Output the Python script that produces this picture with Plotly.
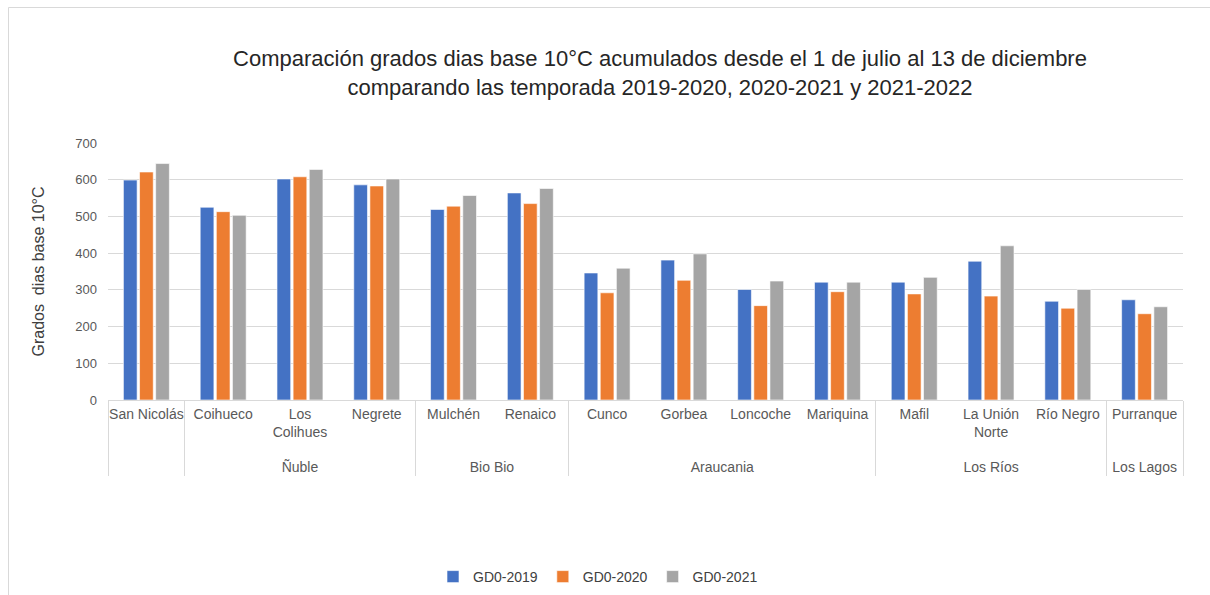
import plotly.graph_objects as go

regions = [" ", "Ñuble", "Ñuble", "Ñuble", "Bio Bio", "Bio Bio",
           "Araucania", "Araucania", "Araucania", "Araucania",
           "Los Ríos", "Los Ríos", "Los Ríos", "Los Lagos"]
localities = ["San Nicolás", "Coihueco", "Los<br>Colihues", "Negrete", "Mulchén", "Renaico",
              "Cunco", "Gorbea", "Loncoche", "Mariquina",
              "Mafil", "La Unión<br>Norte", "Río Negro", "Purranque"]
gd0_2019 = [599, 525, 602, 586, 519, 564, 346, 381, 301, 321, 321, 378, 269, 273]
gd0_2020 = [621, 513, 608, 583, 528, 535, 292, 326, 257, 295, 289, 283, 250, 235]
gd0_2021 = [644, 503, 628, 602, 557, 576, 359, 398, 324, 321, 334, 420, 301, 254]
series_names = ["GD0-2019", "GD0-2020", "GD0-2021"]
colors = ["#4472C4", "#ED7D31", "#A5A5A5"]
y_ticks = [0, 100, 200, 300, 400, 500, 600, 700]

FONT = "Liberation Sans, Arial, sans-serif"

# group labels pushed one line lower, as in the reference
group_labels = ["<br>" + r for r in regions]

fig = go.Figure()
for name, vals, col in zip(series_names, [gd0_2019, gd0_2020, gd0_2021], colors):
    fig.add_trace(go.Bar(
        x=[group_labels, localities], y=vals, name=name,
        marker=dict(color=col, line=dict(color="white", width=0.6)),
    ))

L, R, T, B = 108, 27, 143, 195
W, H = 1210, 595
pw, ph = W - L - R, H - T - B

fig.update_layout(
    width=W, height=H,
    margin=dict(l=L, r=R, t=T, b=B, autoexpand=False),
    paper_bgcolor="white", plot_bgcolor="white",
    font=dict(family=FONT, size=14, color="#595959"),
    barmode="group", bargap=0.37, bargroupgap=0.15,
    title=dict(
        text="Comparación grados dias base 10°C acumulados desde el 1 de julio al 13 de diciembre<br>comparando las temporada 2019-2020, 2020-2021 y 2021-2022",
        x=660 / W, xanchor="center", xref="container",
        y=1 - 66 / H, yanchor="top", yref="container",
        font=dict(family=FONT, size=22, color="#262626"),
    ),
    legend=dict(
        orientation="h", x=(598 - L) / pw, xanchor="center",
        y=(H - B - 577) / ph, yanchor="middle",
        font=dict(size=14, color="#404040"), itemwidth=30,
    ),
    xaxis=dict(
        type="multicategory", showgrid=False, showline=True,
        linecolor="#d9d9d9", linewidth=1, automargin=False,
        showdividers=True, dividercolor="#d9d9d9", dividerwidth=1,
        tickfont=dict(size=14, color="#595959"), tickangle=0,
        ticklabelstandoff=1,
    ),
    yaxis=dict(
        range=[0, 700], tickvals=y_ticks, showgrid=True, gridcolor="#d9d9d9",
        gridwidth=1, zeroline=False, showline=False, ticks="", automargin=False,
        tickfont=dict(size=13, color="#595959"),
        ticklabelstandoff=10,
        title=dict(text="Grados  dias base 10°C" + "\u00a0" * 7,
                   font=dict(size=16, color="#404040"), standoff=26),
    ),
    shapes=[dict(
        type="rect", xref="paper", yref="paper",
        x0=(8.5 - L) / pw, x1=(1215 - L) / pw,
        y0=(H - B - 600) / ph, y1=(H - B - 7.5) / ph,
        line=dict(color="#d9d9d9", width=1), fillcolor="rgba(0,0,0,0)", layer="below",
    )],
)

fig.write_html("out.html", config={"displayModeBar": False},
               post_script="document.body.style.margin='0';document.body.style.overflow='hidden';")
